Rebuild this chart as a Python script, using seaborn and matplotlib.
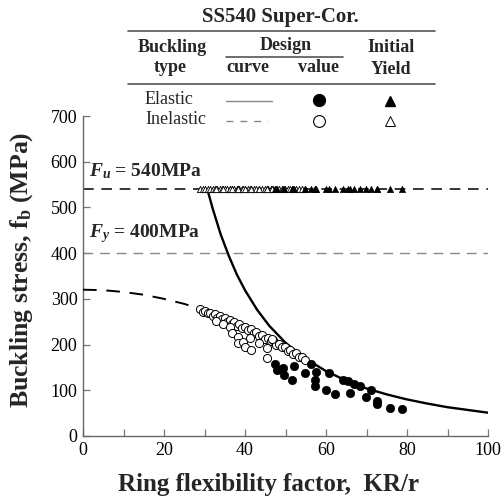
import matplotlib
matplotlib.use("Agg")
import matplotlib.pyplot as plt
from matplotlib.lines import Line2D
import pandas as pd
import seaborn as sns

# Design curves: ring flexibility factor KR/r vs buckling stress (MPa)
elastic_curve_x = [30.7, 32, 34, 36, 38, 40, 43, 46, 50, 55, 60, 65, 70, 75, 80, 85, 90, 95, 100]
elastic_curve_y = [540, 498, 441, 394, 353, 319, 276, 241, 204, 169, 142, 121, 104, 91, 80, 71, 63, 57, 51]
inelastic_curve_x = [0, 5, 10, 15, 20, 25, 30, 35, 40, 45, 50, 55]
inelastic_curve_y = [320, 319, 315, 309, 300, 289, 275, 259, 240, 219, 195, 169]

# Design values, elastic buckling
elastic_x = [47.5, 47.8, 49.5, 49.6, 52.0, 51.5, 54.9, 56.4, 57.6, 57.4, 57.3, 59.9, 60.7,
             62.2, 64.3, 65.4, 65.9, 66.8, 68.4, 71.2, 69.9, 72.6, 72.7, 75.7, 78.8]
elastic_y = [157, 144, 148, 133, 153, 123, 137, 158, 139, 123, 109, 100, 137,
             92, 122, 120, 95, 114, 110, 101, 85, 77, 70, 62, 58]

# Design values, inelastic buckling
inelastic_x = [29.0, 29.6, 30.2, 30.8, 31.4, 32.0, 32.6, 33.2, 33.8, 34.4, 35.0, 35.6, 36.2,
               36.8, 37.4, 38.0, 38.6, 39.3, 40.0, 40.7, 41.4, 42.1, 42.8, 43.5, 44.2, 44.9,
               45.6, 46.3, 47.0, 47.7, 48.4, 49.1, 49.8, 50.5, 51.2, 51.9, 52.6, 53.3, 54.0,
               54.8, 32.8, 34.6, 36.3, 36.7, 38.3, 38.3, 39.6, 40.0, 41.2, 41.4, 43.5, 45.5,
               46.6, 45.5]
inelastic_y = [277, 272, 274, 268, 270, 263, 266, 259, 262, 255, 258, 250, 253,
               246, 249, 241, 244, 236, 239, 231, 233, 225, 227, 219, 221, 213,
               215, 207, 209, 200, 202, 194, 195, 187, 188, 180, 181, 173, 173,
               166, 252, 245, 239, 225, 216, 203, 206, 195, 214, 188, 203, 192,
               212, 170]

# Material strengths (MPa)
fu = 540
fy = 400
initial_yield = 540

sns.set_theme(style="ticks")
plt.rcParams["font.family"] = ["Liberation Serif", "DejaVu Serif"]
plt.rcParams["mathtext.fontset"] = "custom"
plt.rcParams["mathtext.rm"] = "Liberation Serif:bold"
plt.rcParams["mathtext.it"] = "Liberation Serif:italic:bold"
plt.rcParams["mathtext.bf"] = "Liberation Serif:bold"

W, H = 503, 504
fig = plt.figure(figsize=(W / 100, H / 100), dpi=100)
ax = fig.add_axes([83 / W, 1 - 436 / H, (488 - 83) / W, (436 - 116) / H])


def fp(x, y):
    """Figure-fraction coordinates from pixel position (origin top-left)."""
    return x / W, 1 - y / H


# Strength reference lines
ax.axhline(fu, color="black", lw=1.1, dashes=(7, 5), zorder=1)
ax.axhline(fy, color="#888888", lw=1.0, dashes=(7, 5), zorder=1)
ax.text(1.5, fu + 18, r"$F_u$ = 540MPa", fontsize=14, fontweight="bold", va="bottom")
ax.text(1.5, fy + 18, r"$F_y$ = 400MPa", fontsize=14, fontweight="bold", va="bottom")

# Design curves
curves_e = pd.DataFrame({"x": elastic_curve_x, "y": elastic_curve_y})
curves_i = pd.DataFrame({"x": inelastic_curve_x, "y": inelastic_curve_y})
sns.lineplot(data=curves_e, x="x", y="y", ax=ax, color="black", lw=1.7,
             sort=False, estimator=None, zorder=3)
sns.lineplot(data=curves_i, x="x", y="y", ax=ax, color="black", lw=1.4,
             sort=False, estimator=None, dashes=False, zorder=3).lines[-1].set_dashes((7, 5))

# Design values
df_e = pd.DataFrame({"x": elastic_x, "y": elastic_y})
df_i = pd.DataFrame({"x": inelastic_x, "y": inelastic_y})
sns.scatterplot(data=df_i, x="x", y="y", ax=ax, marker="o", s=34,
                facecolor="white", edgecolor="black", linewidth=0.7, zorder=4)
sns.scatterplot(data=df_e, x="x", y="y", ax=ax, marker="o", s=36,
                color="black", edgecolor="black", linewidth=0.5, zorder=5)

# Initial yield for every specimen
yi = pd.DataFrame({"x": inelastic_x, "y": [initial_yield] * len(inelastic_x)})
ye = pd.DataFrame({"x": elastic_x, "y": [initial_yield] * len(elastic_x)})
sns.scatterplot(data=yi, x="x", y="y", ax=ax, marker="^", s=20,
                facecolor="white", edgecolor="black", linewidth=0.6, zorder=4)
sns.scatterplot(data=ye, x="x", y="y", ax=ax, marker="^", s=20,
                color="black", edgecolor="black", linewidth=0.5, zorder=5)

ax.set_xlim(0, 100)
ax.set_ylim(0, 700)
ax.set_xticks(range(0, 101, 10))
ax.set_xticklabels(["0", "", "20", "", "40", "", "60", "", "80", "", "100"])
ax.set_yticks(range(0, 701, 100))
ax.tick_params(direction="in", length=5, width=0.9, color="#777777",
               labelsize=13, labelcolor="black", pad=4)
for side in ("top", "right"):
    ax.spines[side].set_visible(False)
for side in ("left", "bottom"):
    ax.spines[side].set_color("#666666")
    ax.spines[side].set_linewidth(1.0)

ax.set_xlabel("Ring flexibility factor,  KR/r", fontsize=18, fontweight="bold")
ax.xaxis.set_label_coords((268 - 83) / 405, -(484 - 436) / 320)
ax.xaxis.label.set_va("center")
ax.set_ylabel(r"Buckling stress, f$_\mathrm{b}$ (MPa)", fontsize=18.5, fontweight="bold")
ax.yaxis.set_label_coords(-(83 - 22) / 405, (436 - 270) / 320)
ax.yaxis.label.set_va("center")

# Key table above the plot
fig.text(*fp(280, 17), "SS540 Super-Cor.", fontsize=15, fontweight="bold", ha="center", va="center")
for (x0, x1, y) in [(128, 435, 31), (226, 343, 57), (128, 435, 84)]:
    fig.add_artist(Line2D([fp(x0, y)[0], fp(x1, y)[0]], [fp(x0, y)[1]] * 2,
                          color="#555555", lw=1.2))
hdr = dict(fontsize=13, fontweight="bold", ha="center", va="center")
fig.text(*fp(172, 47), "Buckling", **hdr)
fig.text(*fp(170, 68), "type", **hdr)
fig.text(*fp(286, 46), "Design", **hdr)
fig.text(*fp(248, 67), "curve", **hdr)
fig.text(*fp(318, 67), "value", **hdr)
fig.text(*fp(391, 48), "Initial", **hdr)
fig.text(*fp(391, 70), "Yield", **hdr)

row = dict(fontsize=13, ha="left", va="center")
fig.text(*fp(145, 99), "Elastic", **row)
fig.text(*fp(145, 119), "Inelastic", **row)
fig.add_artist(Line2D([fp(226, 0)[0], fp(272, 0)[0]], [fp(0, 101)[1]] * 2, color="#888888", lw=1.0))
fig.add_artist(Line2D([fp(226, 0)[0], fp(268, 0)[0]], [fp(0, 121)[1]] * 2, color="#888888",
                      lw=1.0, dashes=(5, 5)))
fig.add_artist(Line2D([fp(319, 100)[0]], [fp(319, 100)[1]], marker="o", ms=8.5, color="black"))
fig.add_artist(Line2D([fp(319, 121)[0]], [fp(319, 121)[1]], marker="o", ms=8.5,
                      mfc="white", mec="black", mew=0.8))
fig.add_artist(Line2D([fp(390, 101)[0]], [fp(390, 101)[1]], marker="^", ms=6.5, color="black"))
fig.add_artist(Line2D([fp(390, 121)[0]], [fp(390, 121)[1]], marker="^", ms=6.5,
                      mfc="white", mec="black", mew=0.7))

fig.savefig("out.png", dpi=100)
